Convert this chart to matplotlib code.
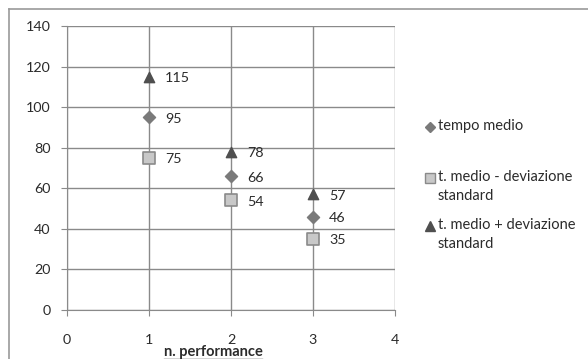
import matplotlib
matplotlib.use("Agg")
import matplotlib.pyplot as plt
from matplotlib.lines import Line2D

plt.rcParams['font.family'] = ['Lato', 'DejaVu Sans']

x_vals = [1, 2, 3]
tempo_medio = [95, 66, 46]
meno_dev = [75, 54, 35]
piu_dev = [115, 78, 57]
series_names = ["tempo medio", "t. medio - deviazione\nstandard", "t. medio + deviazione\nstandard"]
x_ticks = [0, 1, 2, 3, 4]
y_ticks = [0, 20, 40, 60, 80, 100, 120, 140]

W, H = 588, 359
TXT = '#2b2b2b'
fig = plt.figure(figsize=(W / 100, H / 100), dpi=100)
fig.patch.set_facecolor('white')

# outer frame (top and left visible)
fig.add_artist(Line2D([9 / W, 9 / W], [0, 1 - 9 / H], transform=fig.transFigure, color='#9a9a9a', lw=1.2))
fig.add_artist(Line2D([9 / W, 1], [1 - 9 / H, 1 - 9 / H], transform=fig.transFigure, color='#9a9a9a', lw=1.2))

ax = fig.add_axes([67 / W, 1 - 310 / H, (395 - 67) / W, (310 - 26) / H])
ax.set_xlim(0, 4)
ax.set_ylim(0, 140)
ax.set_xticks(x_ticks)
ax.set_yticks(y_ticks)
ax.grid(True, color='#8a8a8a', lw=1.0)
ax.set_axisbelow(True)
for s in ax.spines.values():
    s.set_visible(False)
ax.spines['left'].set_visible(True)
ax.spines['bottom'].set_visible(True)
ax.spines['left'].set_color('#8a8a8a')
ax.spines['bottom'].set_color('#8a8a8a')
ax.tick_params(axis='both', direction='out', length=4, color='#8a8a8a', labelsize=10.3, labelcolor=TXT)
ax.tick_params(axis='y', pad=8)
ax.tick_params(axis='x', pad=13)

ax.scatter(x_vals, meno_dev, marker='s', s=70, color='#c8c8c8', edgecolors='#8a8a8a', linewidths=1.2, zorder=3)
ax.scatter(x_vals, tempo_medio, marker='D', s=38, color='#7a7a7a', zorder=3)
ax.scatter(x_vals, piu_dev, marker='^', s=55, color='#4f4f4f', zorder=3)

for series in (tempo_medio, meno_dev, piu_dev):
    for xv, yv in zip(x_vals, series):
        ax.annotate(str(yv), (xv, yv), xytext=(11.5, -1), textcoords='offset points',
                    ha='left', va='center', fontsize=10.3, color=TXT)

# x label, bold + underlined
xl = fig.text(213 / W, 1 - 352 / H, "n. performance", ha='center', va='center',
              fontsize=10.5, fontweight='bold', color=TXT)
fig.canvas.draw()
bb = xl.get_window_extent(fig.canvas.get_renderer())
fig.add_artist(Line2D([bb.x0 / W, bb.x1 / W], [(bb.y0 - 0.3) / H, (bb.y0 - 0.3) / H],
                      transform=fig.transFigure, color=TXT, lw=1.0))

# legend drawn manually
leg_items = [
    ('D', 5, '#7a7a7a', '#7a7a7a', 127),
    ('s', 7, '#c8c8c8', '#8a8a8a', 178),
    ('^', 6.5, '#4f4f4f', '#4f4f4f', 226),
]
for (mk, ms, fc, ec, yy), name in zip(leg_items, series_names):
    fig.add_artist(Line2D([430 / W], [1 - yy / H], transform=fig.transFigure, marker=mk,
                          markersize=ms, markerfacecolor=fc, markeredgecolor=ec, lw=0))
    fig.text(438 / W, 1 - (yy - 8) / H, name, ha='left', va='top', fontsize=10.5,
             color=TXT, linespacing=1.45)

fig.savefig("out.png", dpi=100, facecolor='white')
